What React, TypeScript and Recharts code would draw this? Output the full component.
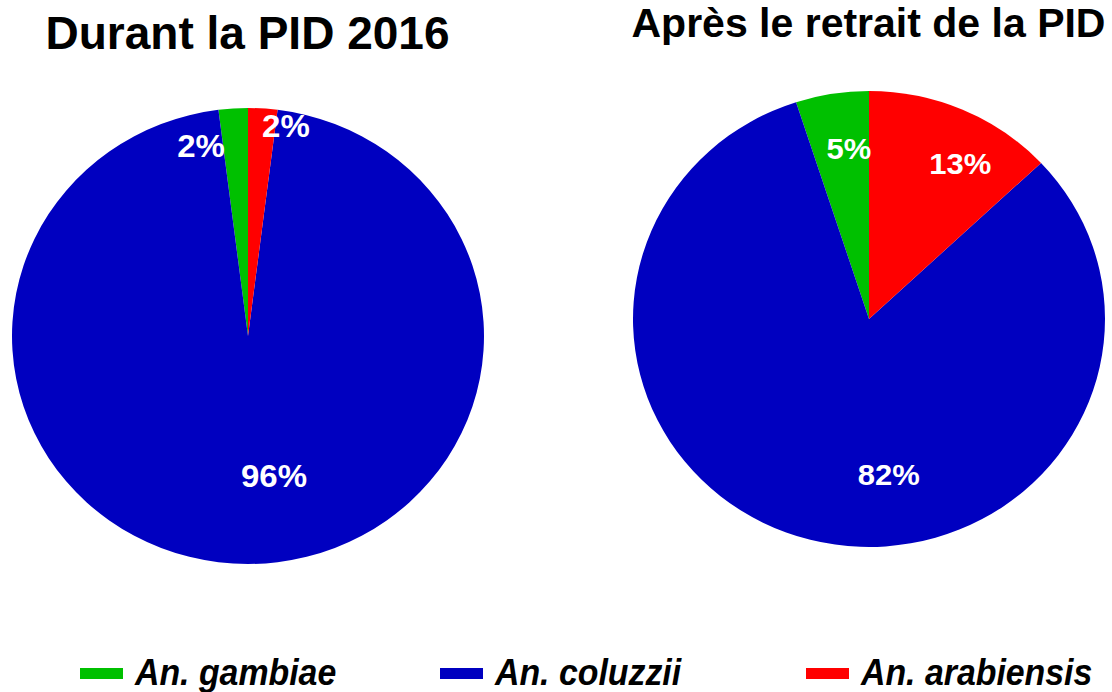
import React from 'react';
import { PieChart, Pie, Cell } from 'recharts';

const species = ['An. gambiae', 'An. coluzzii', 'An. arabiensis'];
const speciesColors = ['#00C000', '#0000C0', '#FF0000'];
const durantPid = [2, 96, 2];
const apresRetrait = [5, 82, 13];
const titles = ['Durant la PID 2016', 'Après le retrait de la PID'];

const RADIAN = Math.PI / 180;
const FONT = '"Liberation Sans", Arial, Helvetica, sans-serif';

// label nudges (px) from the default spot at 0.6 R, per slice
const labelNudge = [
  [[-38, -55], [26, 4], [29, -76]],
  [[2, -37], [55, 23], [35, -31]],
];
const legendLeft = [80, 440, 806];
const BOX = 500;

interface PiePanelProps {
  values: number[];
  nudges: number[][];
  centerX: number;
  centerY: number;
  fontSize: number;
}

const PiePanel: React.FC<PiePanelProps> = ({ values, nudges, centerX, centerY, fontSize }) => {
  const data = species.map((name, i) => ({ name, value: values[i] }));

  const renderLabel = (props: any) => {
    const { cx, cy, midAngle, outerRadius, index, value } = props;
    const r = outerRadius * 0.6;
    const x = cx + r * Math.cos(-midAngle * RADIAN) + nudges[index][0];
    const y = cy + r * Math.sin(-midAngle * RADIAN) + nudges[index][1];
    return (
      <text
        x={x}
        y={y}
        fill="#fff"
        textAnchor="middle"
        dominantBaseline="central"
        fontFamily={FONT}
        fontWeight="bold"
        fontSize={fontSize}
      >
        {value}%
      </text>
    );
  };

  return (
    <div
      style={{
        position: 'absolute',
        left: centerX - BOX / 2,
        top: centerY - BOX / 2,
        width: BOX,
        height: BOX,
        transform: 'scaleY(0.966)',
        transformOrigin: '50% 50%'
      }}
    >
      <PieChart width={BOX} height={BOX} margin={{ top: 0, right: 0, bottom: 0, left: 0 }}>
        <Pie
          data={data}
          dataKey="value"
          cx={BOX / 2}
          cy={BOX / 2}
          outerRadius={236}
          startAngle={90}
          endAngle={450}
          stroke="none"
          label={renderLabel}
          labelLine={false}
          isAnimationActive={false}
        >
          {data.map((d, i) => (
            <Cell key={`cell-${i}`} fill={speciesColors[i]} />
          ))}
        </Pie>
      </PieChart>
    </div>
  );
};

const App: React.FC = () => {
  return (
    <div
      style={{
        position: 'absolute',
        left: 0,
        top: 0,
        width: 1112,
        height: 692,
        background: '#fff',
        overflow: 'hidden',
        fontFamily: FONT
      }}
    >
      <div
        style={{
          position: 'absolute',
          left: 0,
          width: 495,
          top: 10,
          textAlign: 'center',
          fontSize: 46,
          lineHeight: '46px',
          fontWeight: 'bold',
          whiteSpace: 'nowrap'
        }}
      >
        {titles[0]}
      </div>
      <div
        style={{
          position: 'absolute',
          left: 568,
          width: 601,
          top: 3,
          textAlign: 'center',
          fontSize: 41,
          lineHeight: '41px',
          fontWeight: 'bold',
          whiteSpace: 'nowrap'
        }}
      >
        {titles[1]}
      </div>

      <PiePanel values={durantPid} nudges={labelNudge[0]} centerX={248} centerY={336} fontSize={33} />
      <PiePanel values={apresRetrait} nudges={labelNudge[1]} centerX={869} centerY={319} fontSize={31} />

      {species.map((name, i) => (
        <div
          key={name}
          style={{
            position: 'absolute',
            left: legendLeft[i],
            top: 655,
            height: 36,
            display: 'flex',
            alignItems: 'center',
            whiteSpace: 'nowrap'
          }}
        >
          <div style={{ width: 43, height: 11, background: speciesColors[i], marginRight: 12 }} />
          <span
            style={{
              display: 'inline-block',
              fontStyle: 'italic',
              fontWeight: 'bold',
              fontSize: 36,
              lineHeight: '36px',
              transform: 'scaleX(0.94)',
              transformOrigin: '0 50%'
            }}
          >
            {name}
          </span>
        </div>
      ))}
    </div>
  );
};

export default App;
